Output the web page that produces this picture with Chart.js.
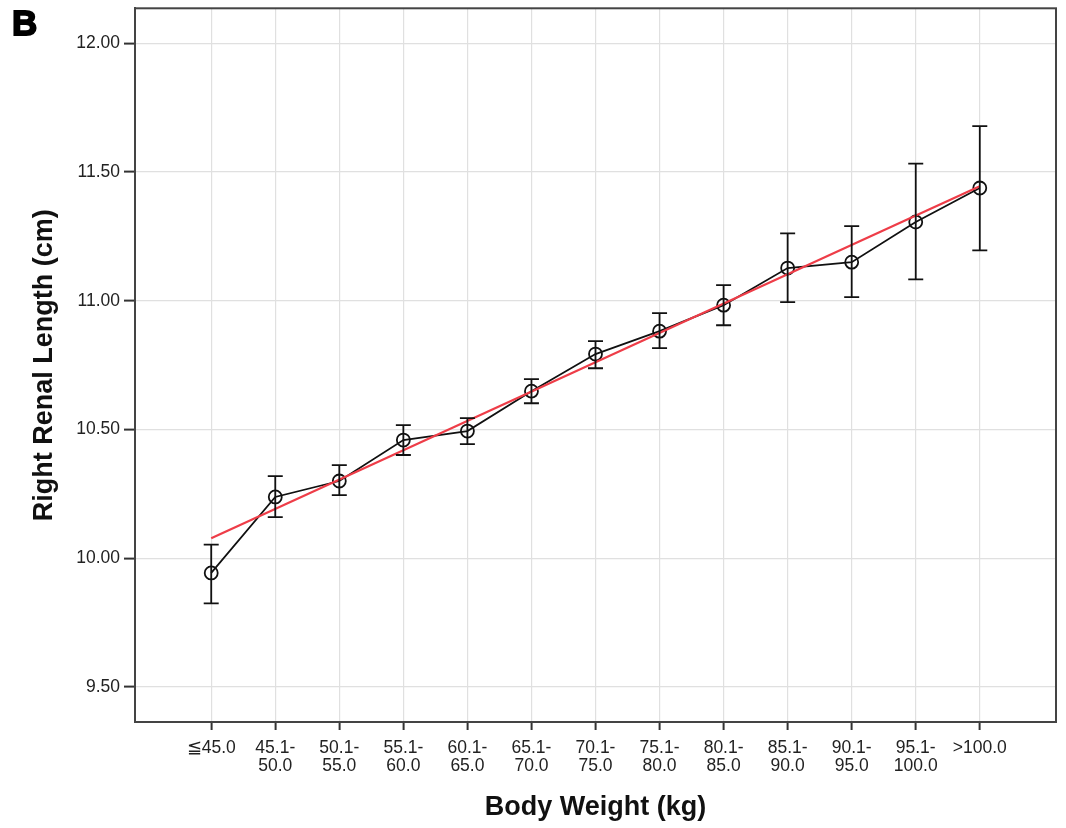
<!DOCTYPE html>
<html>
<head>
<meta charset="utf-8">
<title>Right Renal Length by Body Weight</title>
<script src="https://cdn.jsdelivr.net/npm/chart.js@4.4.1/dist/chart.umd.min.js"></script>
<style>
    html, body { margin: 0; padding: 0; background: #fff; }
    #wrap { position: relative; width: 1066px; height: 828px; }
    #panel {
        position: absolute; left: 12px; top: 5px;
        font: bold 35px "Liberation Sans", Arial, sans-serif;
        line-height: 1; color: #000;
        -webkit-text-stroke: 1.8px #000;
    }
</style>
</head>
<body>
<div id="wrap">
    <canvas id="renalChart" width="1066" height="828"></canvas>
    <div id="panel">B</div>
</div>
<script>
// Body weight groups (x axis categories)
const weightGroups = ['≦45.0', '45.1-\n50.0', '50.1-\n55.0', '55.1-\n60.0', '60.1-\n65.0', '65.1-\n70.0',
    '70.1-\n75.0', '75.1-\n80.0', '80.1-\n85.0', '85.1-\n90.0', '90.1-\n95.0', '95.1-\n100.0', '>100.0'];

// Mean right renal length (cm) per group
const meanLength = [9.943, 10.238, 10.300, 10.459, 10.494, 10.649, 10.793, 10.882, 10.983, 11.127, 11.150, 11.306, 11.438];

// Error bar ends
const errLow  = [9.825, 10.160, 10.245, 10.401, 10.443, 10.602, 10.738, 10.816, 10.905, 10.995, 11.014, 11.083, 11.196];
const errHigh = [10.053, 10.319, 10.362, 10.517, 10.544, 10.696, 10.843, 10.952, 11.061, 11.262, 11.290, 11.533, 11.678];

// Linear fit line (end points)
const fitX = [0, 12];
const fitY = [10.078, 11.445];

// Y axis tick values
const yTicks = [9.5, 10.0, 10.5, 11.0, 11.5, 12.0];

const FONT = '"Liberation Sans", Arial, sans-serif';

// Draw the box round the plot area
const framePlugin = {
    id: 'frame',
    afterDraw(chart) {
        const { ctx, chartArea: a } = chart;
        ctx.save();
        ctx.strokeStyle = '#444';
        ctx.lineWidth = 2;
        ctx.strokeRect(a.left, a.top, a.right - a.left, a.bottom - a.top);
        ctx.restore();
    }
};

// Error bars with caps
const errorBarPlugin = {
    id: 'errorBars',
    afterDatasetsDraw(chart) {
        const { ctx, scales: { x, y } } = chart;
        ctx.save();
        ctx.strokeStyle = '#111';
        ctx.lineWidth = 1.8;
        meanLength.forEach((m, i) => {
            const px = x.getPixelForValue(i);
            const top = y.getPixelForValue(errHigh[i]);
            const bot = y.getPixelForValue(errLow[i]);
            ctx.beginPath();
            ctx.moveTo(px, top); ctx.lineTo(px, bot);
            ctx.moveTo(px - 7.5, top); ctx.lineTo(px + 7.5, top);
            ctx.moveTo(px - 7.5, bot); ctx.lineTo(px + 7.5, bot);
            ctx.stroke();
        });
        ctx.restore();
    }
};

document.addEventListener('DOMContentLoaded', function() {
    const ctx = document.getElementById('renalChart');
    new Chart(ctx, {
        type: 'line',
        data: {
            datasets: [{
                label: 'Fit',
                data: fitX.map((v, i) => ({ x: v, y: fitY[i] })),
                borderColor: '#ee3d48',
                borderWidth: 2.2,
                pointRadius: 0,
                order: 0
            }, {
                label: 'Mean',
                data: meanLength.map((v, i) => ({ x: i, y: v })),
                borderColor: '#111',
                borderWidth: 1.8,
                pointRadius: 6.5,
                pointBorderWidth: 1.8,
                pointBorderColor: '#111',
                pointBackgroundColor: 'rgba(255,255,255,0)',
                order: 1
            }]
        },
        options: {
            responsive: false,
            animation: false,
            events: [],
            layout: { padding: { top: 8, right: 10, left: 0, bottom: 0 } },
            plugins: {
                legend: { display: false },
                tooltip: { enabled: false }
            },
            scales: {
                x: {
                    type: 'linear',
                    min: -1.19,
                    max: 13.19,
                    afterBuildTicks: s => { s.ticks = weightGroups.map((g, i) => ({ value: i })); },
                    afterFit: s => {
                        s.height = 106;
                        s.paddingLeft = 0; s.paddingRight = 0;
                    },
                    ticks: {
                        autoSkip: false,
                        maxRotation: 0,
                        padding: 9,
                        color: '#222',
                        font: { family: FONT, size: 17.5, lineHeight: '18px' },
                        callback: (v, i) => weightGroups[i].split('\n')
                    },
                    grid: { color: '#e0e0e0', lineWidth: 1.2, tickColor: '#333', tickLength: 8, tickWidth: 2 },
                    border: { color: '#444', width: 2 },
                    title: {
                        display: true,
                        text: 'Body Weight (kg)',
                        color: '#111',
                        font: { family: FONT, size: 27, weight: 'bold' },
                        padding: { top: 0, bottom: 4 }
                    }
                },
                y: {
                    min: 9.364,
                    max: 12.136,
                    afterBuildTicks: s => { s.ticks = yTicks.map(v => ({ value: v })); },
                    afterFit: s => {
                        s.width = 135;
                        s.paddingTop = 0; s.paddingBottom = 0;
                    },
                    ticks: {
                        padding: 4,
                        color: '#222',
                        font: { family: FONT, size: 17.5 },
                        callback: v => v.toFixed(2)
                    },
                    grid: { color: '#e0e0e0', lineWidth: 1.2, tickColor: '#333', tickLength: 11, tickWidth: 2 },
                    border: { color: '#444', width: 2 },
                    title: {
                        display: true,
                        text: 'Right Renal Length (cm)',
                        color: '#111',
                        font: { family: FONT, size: 27, weight: 'bold' },
                        padding: { top: 28, bottom: 0 }
                    }
                }
            }
        },
        plugins: [framePlugin, errorBarPlugin]
    });
});
</script>
</body>
</html>
